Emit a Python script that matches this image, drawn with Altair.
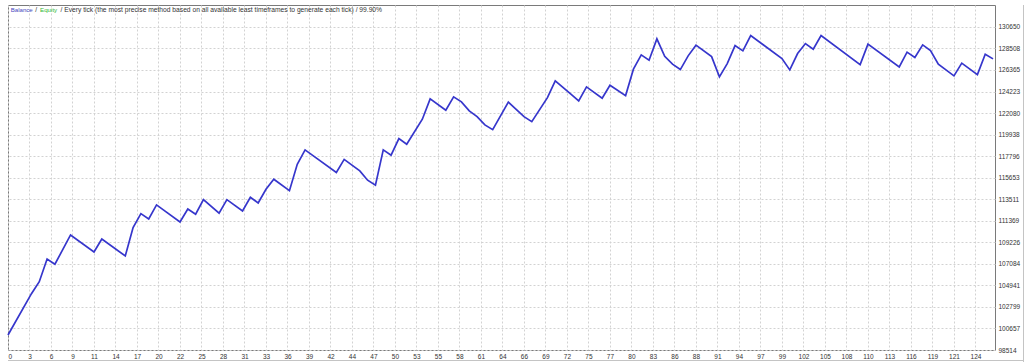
import json
import altair as alt
import pandas as pd

# Balance curve vertices (trade number, balance)
trade = [0, 3, 4, 5, 6, 8, 11, 12, 15, 16, 17, 18, 19, 22, 23, 24, 25, 27, 28, 30,
         31, 32, 33, 34, 36, 37, 38, 42, 43, 45, 46, 47, 48, 49, 50, 51, 53, 54, 56, 57,
         58, 59, 60, 61, 62, 64, 66, 67, 69, 70, 72, 73, 74, 76, 77, 79, 80, 81, 82, 83,
         84, 85, 86, 87, 88, 90, 91, 92, 93, 94, 95, 99, 100, 101, 102, 103, 104, 109, 110, 114,
         115, 116, 117, 118, 119, 121, 122, 124, 125, 126]
balance = [100007, 104116, 105311, 107569, 107042, 109958, 108266, 109560, 107868, 110684,
           112077, 111550, 112943, 111251, 112545, 112017, 113470, 112117, 113470, 112346,
           113709, 113142, 114505, 115500, 114366, 116993, 118416, 116177, 117471, 116326,
           115401, 114903, 118416, 117889, 119540, 118983, 121471, 123491, 122366, 123690,
           123192, 122297, 121730, 120904, 120436, 123163, 121730, 121232, 123620, 125282,
           123959, 123292, 124685, 123561, 124854, 123820, 126446, 127869, 127342, 129462,
           127720, 126944, 126407, 127770, 128835, 127700, 125680, 127004, 128795, 128267,
           129790, 127501, 126377, 127999, 128994, 128437, 129790, 126904, 128934, 126675,
           128138, 127601, 128865, 128297, 126944, 125780, 127044, 125909, 127939, 127471]

x_tick_labels = [0, 3, 6, 9, 11, 14, 17, 20, 22, 25, 28, 31, 33, 36, 39, 42, 44, 47, 50, 53,
                 55, 58, 61, 64, 66, 69, 72, 75, 77, 80, 83, 86, 88, 91, 94, 97, 99, 102, 105,
                 108, 110, 113, 116, 119, 121, 124]
x_tick_step = 2.75
y_tick_labels = [98514, 100657, 102799, 104941, 107084, 109226, 111369, 113511, 115653,
                 117796, 119938, 122080, 124223, 126365, 128508, 130650]

header_parts = ["Balance", "/", "Equity",
                "/ Every tick (the most precise method based on all available least timeframes to generate each tick) / 99.90%"]
header_colors = ["#4646c0", "#333333", "#35b835", "#333333"]
header_x = [2.7, 27.2, 32.0, 52.5]
header_size = [6.1, 6.5, 6.2, 6.7]

df = pd.DataFrame({"trade": trade, "balance": balance})
x_ticks = [i * x_tick_step for i in range(len(x_tick_labels))]
label_expr = f"{json.dumps([str(v) for v in x_tick_labels])}[round(datum.value / {x_tick_step})]"

FONT = "Liberation Sans"
grid_kw = dict(grid=True, gridColor="#d2d2d2", gridDash=[2, 2], gridWidth=1,
               domain=False, ticks=False, title=None)

line = alt.Chart(df).mark_line(color="#3636cc", strokeWidth=1.7).encode(
    x=alt.X("trade:Q",
            scale=alt.Scale(domain=[0, 126.25], nice=False, zero=False),
            axis=alt.Axis(values=x_ticks, labelExpr=label_expr, labelFontSize=6.5,
                          labelFont=FONT, labelColor="#333333", labelPadding=3,
                          labelFlush=True, labelOverlap=False, **grid_kw)),
    y=alt.Y("balance:Q",
            scale=alt.Scale(domain=[98514, 132830], nice=False, zero=False),
            axis=alt.Axis(orient="right", values=y_tick_labels, format="d",
                          labelFontSize=6.5, labelFont=FONT, labelColor="#333333",
                          labelPadding=3, labelFlush=True, labelFlushOffset=3,
                          labelOverlap=False, **grid_kw)),
)

hdr_df = pd.DataFrame({"t": header_parts, "c": header_colors, "px": header_x,
                       "fs": header_size})
header = alt.Chart(hdr_df).mark_text(align="left", baseline="middle",
                                     font=FONT).encode(
    x=alt.X("px:Q", scale=None),
    y=alt.value(5),
    text="t:N",
    color=alt.Color("c:N", scale=None),
    size=alt.Size("fs:Q", scale=None),
)

# window frame lines (right edge and bottom strip)
frame_r = alt.Chart(hdr_df.head(1)).mark_rule(color="#c4c4c4", strokeWidth=1).encode(
    x=alt.value(1015.5), y=alt.value(0), y2=alt.value(358))
frame_b = alt.Chart(hdr_df.head(1)).mark_rule(color="#c4c4c4", strokeWidth=1).encode(
    x=alt.value(0), x2=alt.value(1015.5), y=alt.value(355.5))

chart = alt.layer(frame_r, frame_b, line, header).properties(
    width=987, height=345,
    padding={"left": 4, "top": 4, "right": 0, "bottom": 0},
    background="#ffffff",
).configure_view(stroke="#7a7a7a", strokeWidth=1)

chart.save("out.html", embed_options={"renderer": "svg", "actions": False})
